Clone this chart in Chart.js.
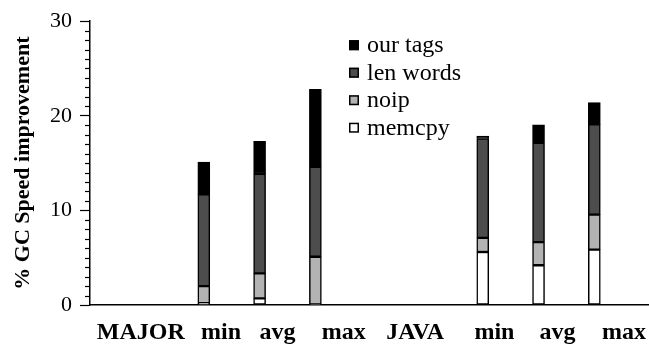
<!DOCTYPE html>
<html>
<head>
<meta charset="utf-8">
<script src="https://cdn.jsdelivr.net/npm/chart.js@4"></script>
<style>
  html, body { margin: 0; padding: 0; background: #fff; }
  #wrap { width: 649px; height: 345px; }
</style>
</head>
<body>
<div id="wrap"><canvas id="gc" width="649" height="345"></canvas></div>
<script>
// Benchmark groups along the x axis: slot index of each bar
const barSlots = [2, 3, 4, 7, 8, 9];

// Stacked contributions (% GC speed improvement), bottom to top
const memcpy   = [0.2, 0.7, 0.05, 5.6, 4.2, 5.85];
const noip     = [1.8, 2.65, 5.05, 1.5, 2.45, 3.7];
const lenWords = [9.7, 10.5, 9.5, 10.5, 10.5, 9.55];
const ourTags  = [3.4, 3.45, 8.2, 0.25, 1.9, 2.3];

// Axis text under the bars and where it sits on the x axis
const xLabels  = ['MAJOR', 'min', 'avg', 'max', 'JAVA', 'min', 'avg', 'max'];
const xLabelAt = [0.87, 2.31, 3.32, 4.51, 5.79, 7.21, 8.34, 9.53];

const SERIF = '"Liberation Serif", "Times New Roman", serif';

function series(values) {
  return values.map((v, i) => ({ x: barSlots[i], y: v }));
}

const datasets = [
  { label: 'memcpy',    data: series(memcpy),   backgroundColor: '#ffffff' },
  { label: 'noip',      data: series(noip),     backgroundColor: '#b3b3b3' },
  { label: 'len words', data: series(lenWords), backgroundColor: '#4d4d4d' },
  { label: 'our tags',  data: series(ourTags),  backgroundColor: '#000000' }
].map(d => Object.assign(d, {
  borderColor: '#000000',
  borderWidth: 1.5,
  borderSkipped: false,
  barThickness: 12,
  grouped: false
}));

// Short minor ticks every 1 unit on the value axis
const minorTicks = {
  id: 'minorTicks',
  afterDraw(chart) {
    const y = chart.scales.y;
    const ctx = chart.ctx;
    const x0 = chart.chartArea.left;
    ctx.save();
    ctx.strokeStyle = '#000';
    ctx.lineWidth = 1.2;
    for (let v = y.min + 1; v < y.max; v++) {
      if (v % 10 === 0) continue;
      const py = Math.round(y.getPixelForValue(v)) + 0.5;
      ctx.beginPath();
      ctx.moveTo(x0 - 5, py);
      ctx.lineTo(x0, py);
      ctx.stroke();
    }
    ctx.restore();
  }
};

// Key inside the plot: top series first, square swatch + name
const boxLegend = {
  id: 'boxLegend',
  afterDraw(chart) {
    const ctx = chart.ctx;
    const area = chart.chartArea;
    const left = area.left + 259;
    const top = area.top + 24;
    const rowGap = 27.5;
    const items = chart.data.datasets.slice().reverse();
    ctx.save();
    ctx.font = '24px ' + SERIF;
    ctx.textBaseline = 'middle';
    items.forEach((ds, i) => {
      const cy = top + i * rowGap;
      ctx.fillStyle = ds.backgroundColor;
      ctx.fillRect(left, cy - 5, 10, 10);
      ctx.strokeStyle = '#000';
      ctx.lineWidth = 1.5;
      ctx.strokeRect(left + 0.75, cy - 4.25, 8.5, 8.5);
      ctx.fillStyle = '#000';
      ctx.fillText(ds.label, left + 18, cy + 1);
    });
    ctx.restore();
  }
};

new Chart(document.getElementById('gc'), {
  type: 'bar',
  data: { datasets },
  plugins: [minorTicks, boxLegend],
  options: {
    responsive: false,
    devicePixelRatio: 1,
    animation: false,
    layout: { padding: { top: 17, right: 0, bottom: 0, left: 0 } },
    plugins: {
      legend: { display: false },
      tooltip: { enabled: false }
    },
    scales: {
      x: {
        type: 'linear',
        stacked: true,
        offset: false,
        min: -0.04,
        max: 9.98,
        grid: { display: false, drawTicks: false, offset: false },
        border: { display: true, color: '#000', width: 1.5 },
        afterBuildTicks(scale) {
          scale.ticks = xLabelAt.map(v => ({ value: v }));
        },
        afterFit(scale) {
          // labels sit inside the plot width; the axis runs to the canvas edge
          scale.height = 40;
          scale.paddingLeft = 0;
          scale.paddingRight = 0;
        },
        ticks: {
          autoSkip: false,
          maxRotation: 0,
          padding: 13,
          color: '#000',
          font: { family: SERIF, size: 24, weight: 'bold' },
          callback: (value, index) => xLabels[index]
        }
      },
      y: {
        stacked: true,
        min: 0,
        max: 30,
        afterFit(scale) { scale.width = 90; },
        grid: {
          drawOnChartArea: false,
          drawTicks: true,
          tickLength: 10,
          tickColor: '#000',
          tickWidth: 1.2
        },
        border: { display: true, color: '#000', width: 1.5 },
        ticks: {
          stepSize: 10,
          padding: 8,
          color: '#000',
          font: { family: SERIF, size: 22 }
        },
        title: {
          display: true,
          text: '% GC Speed improvement',
          color: '#000',
          padding: { top: 10, bottom: 0 },
          font: { family: SERIF, size: 22, weight: 'bold' }
        }
      }
    }
  }
});
</script>
</body>
</html>
